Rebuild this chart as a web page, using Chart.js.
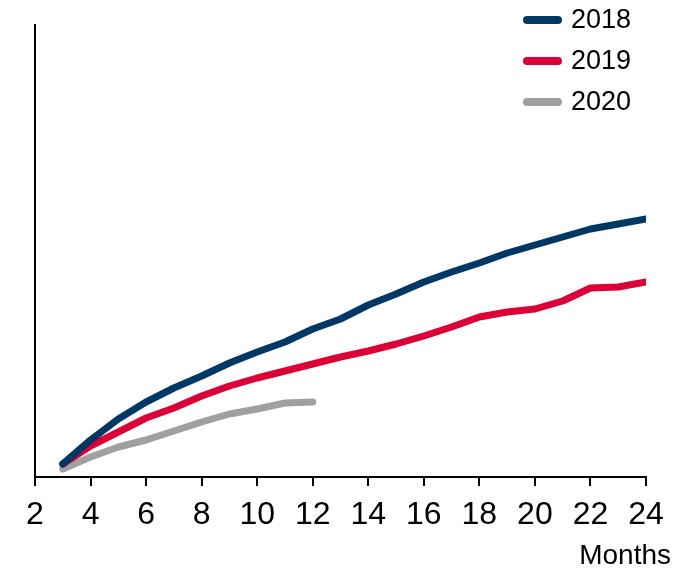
<!DOCTYPE html>
<html>
<head>
<meta charset="utf-8">
<script src="https://cdn.jsdelivr.net/npm/chart.js@4.4.1/dist/chart.umd.min.js"></script>
<style>
  html, body { margin: 0; padding: 0; background: #fff; }
  #wrap { width: 684px; height: 569px; position: relative; }
</style>
</head>
<body>
<div id="wrap"><canvas id="c" width="684" height="569"></canvas></div>
<script>
const months = [3,4,5,6,7,8,9,10,11,12,13,14,15,16,17,18,19,20,21,22,23,24];
const series2018 = [13,37,58,75,89,101,114,125,135,148,158,172,183,195,205,214,224,232,240,248,253,258];
const series2019 = [13,31,45,59,69,81,91,99,106,113,120,126,133,141,150,160,165,168,176,189,190,195];
const series2020 = [8,20,30,37,46,55,63,68,74,75];
const seriesNames = ['2018','2019','2020'];
const seriesColors = ['#003865','#dc0036','#a0a0a0'];
const xTicks = [2,4,6,8,10,12,14,16,18,20,22,24];
const xTitle = 'Months';

const FONT = "'Liberation Sans', Arial, Helvetica, sans-serif";

function toPoints(vals) { return vals.map((v, i) => ({ x: months[i], y: v })); }

const allSeries = [series2018, series2019, series2020];
const datasets = allSeries.map((s, i) => ({
  label: seriesNames[i],
  data: toPoints(s),
  borderColor: seriesColors[i],
  backgroundColor: seriesColors[i],
  borderWidth: 7,
  pointRadius: 0,
  tension: 0,
  borderCapStyle: 'round',
  borderJoinStyle: 'round',
  fill: false
}));

const overlay = {
  id: 'overlay',
  afterDraw(chart) {
    const ctx = chart.ctx;
    ctx.save();
    // legend
    const ys = [20, 61, 102];
    chart.data.datasets.forEach((ds, i) => {
      ctx.strokeStyle = ds.borderColor;
      ctx.lineWidth = 8;
      ctx.lineCap = 'round';
      ctx.beginPath();
      ctx.moveTo(527, ys[i]);
      ctx.lineTo(558, ys[i]);
      ctx.stroke();
      ctx.fillStyle = '#000';
      ctx.font = '27px ' + FONT;
      ctx.textAlign = 'left';
      ctx.textBaseline = 'middle';
      ctx.fillText(ds.label, 571, ys[i] + 1);
    });
    // x-axis title
    ctx.fillStyle = '#000';
    ctx.font = '28px ' + FONT;
    ctx.textAlign = 'right';
    ctx.textBaseline = 'middle';
    ctx.fillText(xTitle, 671, 556);
    ctx.restore();
  }
};

new Chart(document.getElementById('c'), {
  type: 'line',
  data: { datasets },
  options: {
    responsive: false,
    animation: false,
    layout: { padding: { left: 35, top: 25, right: 38, bottom: 0 } },
    plugins: { legend: { display: false }, tooltip: { enabled: false } },
    scales: {
      x: {
        type: 'linear',
        min: 2, max: 24,
        afterBuildTicks(scale) { scale.ticks = xTicks.map(v => ({ value: v })); },
        afterFit(scale) { scale.height = 569 - 477; },
        grid: { drawOnChartArea: false, drawTicks: true, tickLength: 9, color: '#000', lineWidth: 2 },
        border: { display: true, color: '#000', width: 2 },
        ticks: { color: '#000', font: { size: 32, family: FONT }, padding: 10, maxRotation: 0, autoSkip: false }
      },
      y: {
        type: 'linear',
        min: 0, max: 452,
        afterFit(scale) { scale.width = 0; },
        grid: { display: false },
        border: { display: true, color: '#000', width: 2 },
        ticks: { display: false }
      }
    }
  },
  plugins: [overlay]
});
</script>
</body>
</html>
